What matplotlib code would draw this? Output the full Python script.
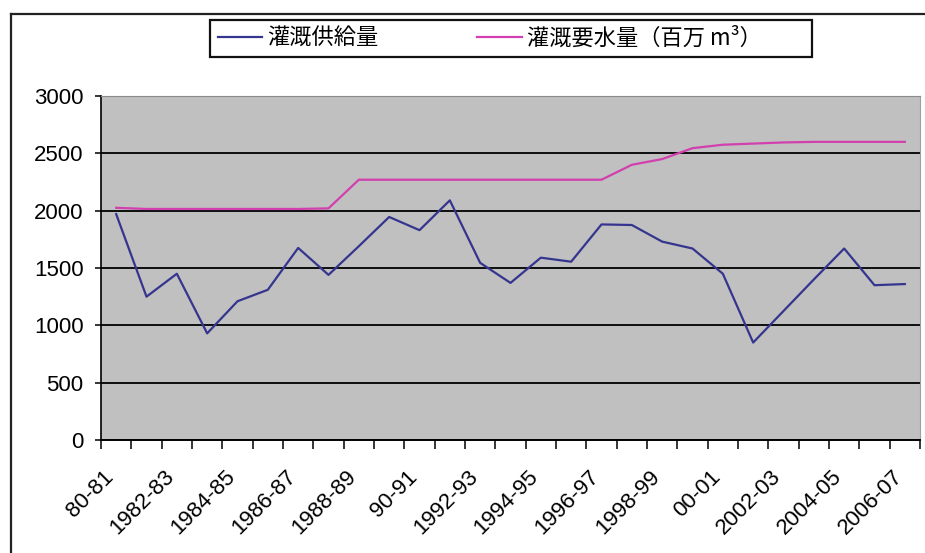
import numpy as np
import matplotlib
matplotlib.use('Agg')
import matplotlib.pyplot as plt
from matplotlib.lines import Line2D
from matplotlib.patches import Rectangle
from matplotlib.transforms import ScaledTranslation

# fiscal years (only every other one is labelled on the chart)
years = ['80-81', '1981-82', '1982-83', '1983-84', '1984-85', '1985-86', '1986-87',
         '1987-88', '1988-89', '1989-90', '90-91', '1991-92', '1992-93', '1993-94',
         '1994-95', '1995-96', '1996-97', '1997-98', '1998-99', '1999-00', '00-01',
         '2001-02', '2002-03', '2003-04', '2004-05', '2005-06', '2006-07']
supply = [1970, 1250, 1450, 930, 1210, 1310, 1675, 1440, 1690, 1945, 1830, 2090, 1545, 1370,
          1590, 1555, 1880, 1875, 1730, 1670, 1450, 850, 1125, 1400, 1670, 1350, 1360]
demand = [2025, 2015, 2015, 2015, 2015, 2015, 2015, 2020, 2270, 2270, 2270, 2270, 2270, 2270,
          2270, 2270, 2270, 2400, 2450, 2545, 2575, 2585, 2595, 2600, 2600, 2600, 2600]
series_names = ['灌溉供給量', '灌溉要水量（百万 m³）']

W, H = 925, 553
fig = plt.figure(figsize=(W / 100, H / 100), dpi=100)
fig.patch.set_facecolor('white')


def fx(px):
    return px / W


def fy(py):
    return 1 - py / H


ax = fig.add_axes([fx(101), fy(440), fx(920) - fx(101), fy(96) - fy(440)])
ax.set_facecolor('#c0c0c0')

x = np.arange(len(years))
ax.plot(x, supply, color='#35358f', lw=1.6, zorder=3)
ax.plot(x, demand, color='#d23fae', lw=1.6, zorder=3)

ax.set_xlim(-0.5, len(years) - 0.5)
ax.set_ylim(0, 3000)
ax.set_yticks(np.arange(0, 3001, 500))
ax.yaxis.grid(True, color='black', lw=1.3)
ax.set_axisbelow(True)

# tick marks between categories, labels on every other category
ax.set_xticks(np.arange(-0.5, len(years)), labels=[])
ax.set_xticks(x[::2], labels=years[::2], minor=True)
ax.tick_params(axis='x', which='major', direction='out', length=6.5, width=1.1, color='black')
ax.tick_params(axis='x', which='minor', length=0, pad=19)
ax.tick_params(axis='y', direction='out', length=4.5, width=1.1, pad=8)

for lab in ax.get_xticklabels(minor=True):
    lab.set_fontfamily('Liberation Sans')
    lab.set_fontsize(16)
    lab.set_rotation(45)
    lab.set_rotation_mode('anchor')
    lab.set_ha('right')
    lab.set_va('top')
    lab.set_transform(lab.get_transform() + ScaledTranslation(-0.13, 0, fig.dpi_scale_trans))
for lab in ax.get_yticklabels():
    lab.set_fontfamily('Liberation Sans')
    lab.set_fontsize(16)

ax.spines['left'].set_color('black')
ax.spines['left'].set_linewidth(1.2)
ax.spines['bottom'].set_color('black')
ax.spines['bottom'].set_linewidth(1.4)
ax.spines['top'].set_color('#8a8a8a')
ax.spines['right'].set_color('#a0a0a0')

# outer chart frame (cropped at right and bottom)
fig.add_artist(Line2D([fx(11), fx(11)], [fy(13.5), 0], color='#222222', lw=1.6))
fig.add_artist(Line2D([fx(11), 1], [fy(13.5), fy(13.5)], color='#222222', lw=1.6))

# legend box
fig.add_artist(Rectangle((fx(210), fy(57)), fx(812) - fx(210), fy(20) - fy(57),
                         transform=fig.transFigure, facecolor='white',
                         edgecolor='#111111', lw=1.6, zorder=4))
handles = [Line2D([], [], color='#35358f', lw=1.6), Line2D([], [], color='#d23fae', lw=1.6)]
leg = fig.legend(handles, series_names, loc='center left', bbox_to_anchor=(fx(218), fy(38.5)),
                 ncol=2, frameon=False, handlelength=2.0, handletextpad=0.22,
                 columnspacing=4.45, borderpad=0, borderaxespad=0,
                 prop={'family': ['Noto Sans CJK JP', 'DejaVu Sans'], 'size': 16})
leg.set_zorder(5)

fig.savefig('out.png', dpi=100)
